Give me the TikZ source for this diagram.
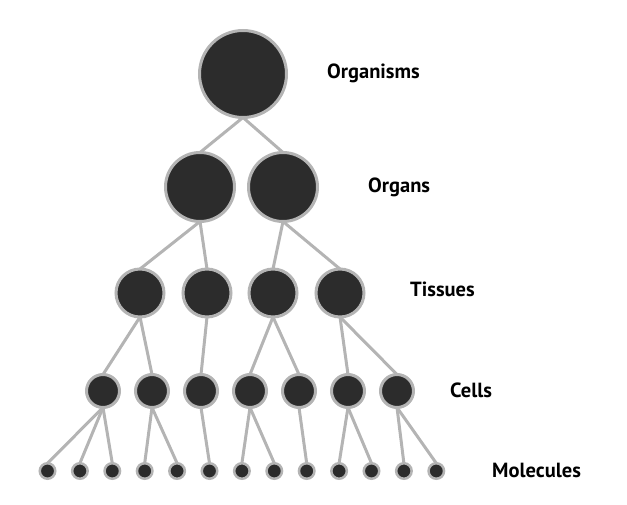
\documentclass[tikz,border=0pt]{standalone}
\usepackage{fontspec}
\setmainfont{PT Sans}
\definecolor{cellfill}{HTML}{2C2C2C}
\definecolor{ringgray}{HTML}{B4B4B4}
\begin{document}
\begin{tikzpicture}[x=1pt, y=-1pt,
        blob/.style={circle, fill=cellfill, draw=ringgray, line width=3pt, inner sep=0pt, outer sep=0pt},
        link/.style={ringgray, line width=3pt},
        lvl/.style={anchor=base west, inner sep=0pt, font=\bfseries\fontsize{20.5}{20.5}\selectfont}]
        \useasboundingbox (0,0) rectangle (627,505);

        % Poziomy
        \node[blob, minimum size=87pt] (org) at (243,74) {};
        \node[blob, minimum size=69pt] (o1) at (200,187) {};
        \node[blob, minimum size=69pt] (o2) at (283,187) {};

        \node[blob, minimum size=48pt] (t1) at (140,293) {};
        \node[blob, minimum size=48pt] (t2) at (207,293) {};
        \node[blob, minimum size=48pt] (t3) at (273,293) {};
        \node[blob, minimum size=48pt] (t4) at (340,293) {};

        \foreach \i/\x in {1/103, 2/152, 3/201, 4/250, 5/299, 6/348, 7/397}
            \node[blob, minimum size=33pt] (c\i) at (\x,391) {};

        \foreach \i in {1,...,13}
            \node[blob, minimum size=15.5pt, line width=2.5pt] (m\i) at (47.5+32.4*\i-32.4,471) {};

        % Polaczenia
        \draw[link] (org.south) -- (o1.north);
        \draw[link] (org.south) -- (o2.north);
        \draw[link] (o1.south) -- (t1.north);
        \draw[link] (o1.south) -- (t2.north);
        \draw[link] (o2.south) -- (t3.north);
        \draw[link] (o2.south) -- (t4.north);
        \draw[link] (t1.south) -- (c1.north);
        \draw[link] (t1.south) -- (c2.north);
        \draw[link] (t2.south) -- (c3.north);
        \draw[link] (t3.south) -- (c4.north);
        \draw[link] (t3.south) -- (c5.north);
        \draw[link] (t4.south) -- (c6.north);
        \draw[link] (t4.south) -- (c7.north);
        \draw[link] (c1.south) -- (m1.north);
        \draw[link] (c1.south) -- (m2.north);
        \draw[link] (c1.south) -- (m3.north);
        \draw[link] (c2.south) -- (m4.north);
        \draw[link] (c2.south) -- (m5.north);
        \draw[link] (c3.south) -- (m6.north);
        \draw[link] (c4.south) -- (m7.north);
        \draw[link] (c4.south) -- (m8.north);
        \draw[link] (c5.south) -- (m9.north);
        \draw[link] (c6.south) -- (m10.north);
        \draw[link] (c6.south) -- (m11.north);
        \draw[link] (c7.south) -- (m12.north);
        \draw[link] (c7.south) -- (m13.north);

        % Etykiety
        \node[lvl] (lorg) at (327,79) {Organisms};
        \node[lvl] (lo) at (368,193) {Organs};
        \node[lvl] (lt) at (410,297) {Tissues};
        \node[lvl] (lc) at (450,397) {Cells};
        \node[lvl] (lm) at (492,477) {Molecules};
    \end{tikzpicture}
\end{document}
